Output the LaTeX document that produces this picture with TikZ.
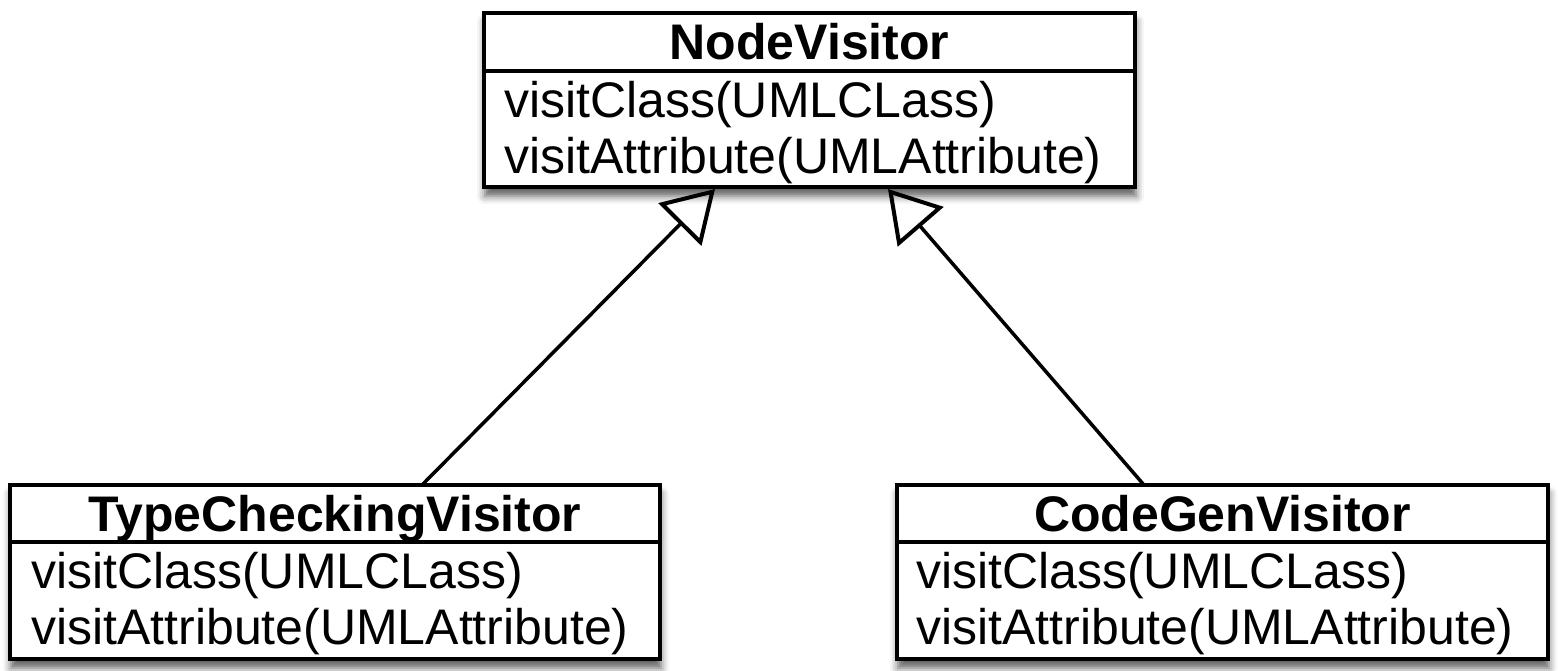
\documentclass[tikz,border=0pt]{standalone}
\usepackage{fontspec}
\setmainfont{Liberation Sans}
\usetikzlibrary{arrows.meta,calc,shadows.blur}
\begin{document}
\begin{tikzpicture}[x=1pt,y=-1pt,
  classbox/.style={draw=black, line width=4pt, fill=white, inner sep=0pt, outer sep=0pt,
    anchor=north west, minimum height=174pt,
    blur shadow={shadow xshift=1pt, shadow yshift=-9pt, shadow blur radius=8pt, shadow opacity=65}},
  ctitle/.style={font=\fontsize{50}{56}\selectfont\bfseries, inner sep=0pt, anchor=base},
  cmember/.style={font=\fontsize{50}{56}\selectfont, inner sep=0pt, anchor=base west},
  rule/.style={line width=4pt, line cap=rect},
  inherit/.style={line width=3.5pt, -{Triangle[open, length=50pt, width=60pt, line width=4pt]}}]
\useasboundingbox (0,0) rectangle (1558,670);
% NodeVisitor
\node[classbox, minimum width=651pt] (nv) at (484,13) {};
\draw[rule] ($(nv.north west)+(0,58)$) -- ($(nv.north east)+(0,58)$);
\node[ctitle] (nvT) at ($(nv.north)+(0,46)$) {NodeVisitor};
\node[cmember] (nvM1) at ($(nv.north west)+(20,104)$) {visitClass(UMLCLass)};
\node[cmember] (nvM2) at ($(nv.north west)+(20,160)$) {visitAttribute(UMLAttribute)};
% TypeCheckingVisitor
\node[classbox, minimum width=650pt] (tcv) at (10,485) {};
\draw[rule] ($(tcv.north west)+(0,57)$) -- ($(tcv.north east)+(0,57)$);
\node[ctitle] (tcvT) at ($(tcv.north)+(0,46)$) {TypeCheckingVisitor};
\node[cmember] (tcvM1) at ($(tcv.north west)+(21,103)$) {visitClass(UMLCLass)};
\node[cmember] (tcvM2) at ($(tcv.north west)+(21,159)$) {visitAttribute(UMLAttribute)};
% CodeGenVisitor
\node[classbox, minimum width=651pt] (cgv) at (897,485) {};
\draw[rule] ($(cgv.north west)+(0,57)$) -- ($(cgv.north east)+(0,57)$);
\node[ctitle] (cgvT) at ($(cgv.north)+(0,46)$) {CodeGenVisitor};
\node[cmember] (cgvM1) at ($(cgv.north west)+(19,103)$) {visitClass(UMLCLass)};
\node[cmember] (cgvM2) at ($(cgv.north west)+(19,159)$) {visitAttribute(UMLAttribute)};
% generalisations
\draw[inherit] ($(tcv.north west)+(412,0)$) -- ($(nv.south west)+(231,2)$);
\draw[inherit] ($(cgv.north west)+(247,0)$) -- ($(nv.south west)+(404,2)$);
\end{tikzpicture}
\end{document}
